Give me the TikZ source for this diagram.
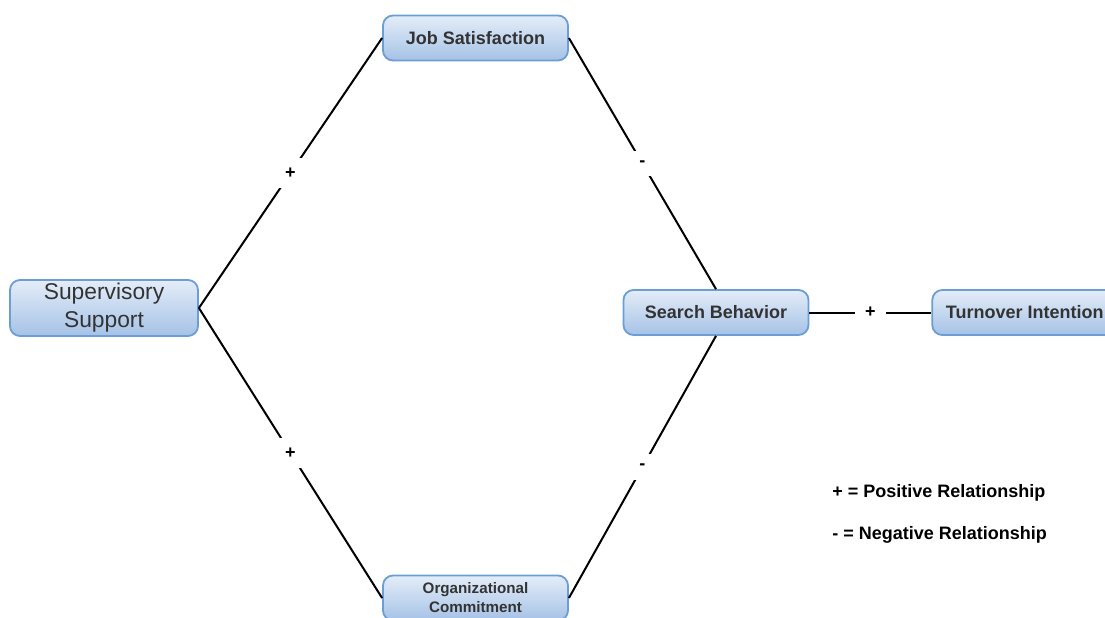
\documentclass[tikz,border=0pt]{standalone}
\usepackage{fontspec}
\setmainfont{Liberation Sans}
\usetikzlibrary{positioning}
\definecolor{boxtop}{HTML}{E4EDF8}
\definecolor{boxbottom}{HTML}{A5C2E6}
\definecolor{boxline}{HTML}{6A9ED5}
\definecolor{boxtext}{HTML}{333333}
\tikzset{
  factor/.style={draw=boxline, line width=0.9pt, rounded corners=5pt, top color=boxtop, bottom color=boxbottom,
    text=boxtext, font=\bfseries\fontsize{9}{11}\selectfont, align=center, minimum width=92.5pt, minimum height=22.5pt, inner sep=0pt},
  sign/.style={fill=white, font=\bfseries\fontsize{9}{11}\selectfont, inner sep=5pt},
  link/.style={line width=1pt},
  legend/.style={anchor=west, font=\bfseries\fontsize{9}{11}\selectfont, inner sep=0pt}
}

\begin{document}
\begin{tikzpicture}[x=0.5pt, y=-0.5pt, node distance=21pt]
\useasboundingbox (0,0) rectangle (1105,617);

\node[factor, minimum width=94pt, minimum height=28pt, font=\fontsize{11.4}{14}\selectfont](supervisory) at (104,308){Supervisory\\Support};
\node[factor](jobsat) at (475.5,38){Job Satisfaction};
\node[factor, font=\bfseries\fontsize{7.6}{9.5}\selectfont](orgcommit) at (475.5,598){Organizational\\Commitment};
\node[factor](search) at (716,312.5){Search Behavior};
\node[factor, right=61pt of search](turnover){Turnover Intention};

\draw[link] (supervisory.east) -- node[sign]{+} (jobsat.west);
\draw[link] (supervisory.east) -- node[sign]{+} (orgcommit.west);
\draw[link] (jobsat.east) -- node[sign]{-} (search.north);
\draw[link] (search.south) -- node[sign]{-} (orgcommit.east);
\draw[link] (search.east) -- node[sign]{+} (turnover.west);

% legend
\node[legend](legpos) at (832,493){+ = Positive Relationship};
\node[legend, below=of legpos.west, anchor=west](legneg){- = Negative Relationship};
\end{tikzpicture}
\end{document}
